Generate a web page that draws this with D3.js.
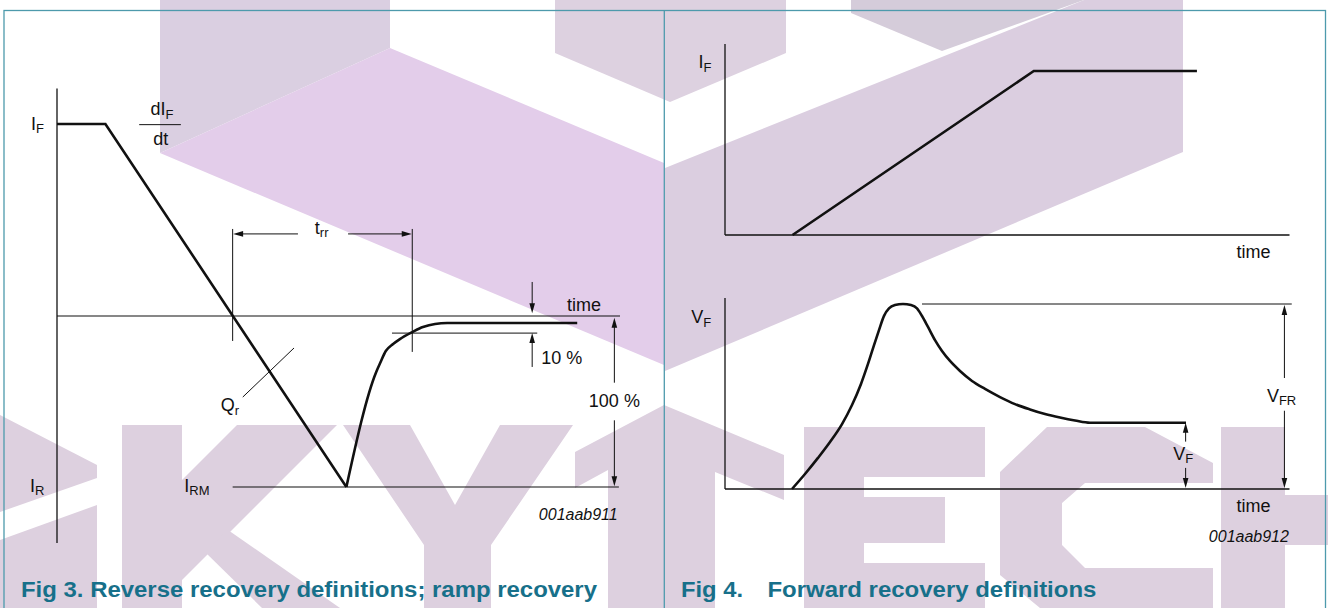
<!DOCTYPE html>
<html><head><meta charset="utf-8">
<script src="https://cdn.jsdelivr.net/npm/d3@7"></script>
<style>html,body{margin:0;padding:0;background:#fff;overflow:hidden}</style>
</head><body><svg id="c" width="1328" height="608"></svg>
<script>
// ---------- DATA ----------
// Fig 3: reverse recovery (time in % of window, current in % of IRM)
const rampTime     = [0, 8.6, 51.4];
const rampCurrent  = [112.3, 112.3, -100];
const recovTime    = [51.4, 56.7, 57.4, 58.4, 59.7, 60.9, 63.1, 65.0, 69.3, 92.4];
const recovCurrent = [-100, -32.7, -27.5, -20.5, -16.4, -13.5, -9.4, -6.4, -4.1, -4.1];
const trrSpan      = [31.2, 63.1];      // start / end of t_rr
const levelIRM     = -100, levelTenPct = -10;
// Fig 4: forward recovery
const ifTime  = [11.96, 54.7, 83.6];
const ifLevel = [0, 100, 100];
const vfTime  = [11.87, 14.17, 16.47, 18.60, 20.73, 22.50, 24.09, 25.33, 26.40, 27.28, 28.17, 29.05, 30.11, 31.53, 32.95, 34.01,
                 34.90, 35.96, 37.20, 38.44, 39.86, 41.63, 43.76, 46.06, 48.72, 51.37, 54.03, 56.69, 59.34, 62.00, 64.66, 81.67];
const vfLevel = [0, 8.1, 16.8, 25.4, 35.1, 45.4, 56.8, 67.6, 77.8, 85.9, 93.6, 97.6, 99.4, 100, 99.4, 97.6,
                 93.5, 87.6, 80.5, 74.6, 69.2, 63.8, 58.4, 54.1, 49.7, 45.9, 43.0, 40.5, 38.6, 37.0, 35.8, 35.8];
const vfrLevel = 100, vfSteady = 35.8;
const captions = ["Fig 3. Reverse recovery definitions; ramp recovery", "Fig 4.", "Forward recovery definitions"];
const codes = ["001aab911", "001aab912"];

// ---------- SETUP ----------
const svg = d3.select("#c");
const FONT = "Arial, 'Liberation Sans', Helvetica, sans-serif";
const INK = "#111";

// watermark logo (decorative background, not data)
const LOGO = "#ddd0df";
const logoShapes = [
  {fill:"#dacfe1", pts:[[160,0],[390,0],[390,48],[160,153]]},
  {fill:"#e3cdea", pts:[[160,153],[390,48],[664,163],[664,365]]},
  {fill:"#ddd1e0", pts:[[555,0],[786,0],[786,53],[670,102],[555,53]]},
  {fill:"#dbcee0", pts:[[665,168],[1084,0],[1183,0],[1183,152],[665,371]]},
  {fill:"#d5ccda", pts:[[851,0],[1084,0],[942,51],[851,13]]},
  // S (partial)
  {fill:LOGO, pts:[[0,415],[97,465],[97,608],[0,608]]},
  {fill:"#ffffff", pts:[[0,512],[97,478],[97,505],[0,540]]},
  // K
  {fill:LOGO, pts:[[122,425],[182,425],[182,608],[122,608]]},
  {fill:LOGO, pts:[[182,480],[237,425],[337,425],[182,580]]},
  {fill:LOGO, pts:[[228,530],[340,608],[262,608],[205,552]]},
  // Y
  {fill:LOGO, pts:[[343,425],[410,425],[455,505],[500,425],[573,425],[491,545],[491,608],[424,608],[424,545]]},
  // T
  {fill:LOGO, pts:[[575,452],[664,405],[784,455],[784,500],[715,472],[715,608],[608,608],[608,470],[575,488]]},
  // E
  {fill:LOGO, pts:[[804,427],[985,427],[985,477],[864,477],[864,497],[945,497],[945,543],[864,543],[864,563],[985,563],[985,608],[804,608]]},
  // C
  {fill:LOGO, pts:[[1047,427],[1145,427],[1213,463],[1213,483],[1085,483],[1062,503],[1062,545],[1085,568],[1213,568],[1213,608],[1040,608],[1000,575],[1000,472]]},
  // H (partial)
  {fill:LOGO, pts:[[1221,427],[1285,427],[1285,608],[1221,608]]},
  {fill:LOGO, pts:[[1285,495],[1328,495],[1328,545],[1285,545]]}
];
svg.append("g").selectAll("polygon").data(logoShapes).join("polygon")
  .attr("points", d => d.pts.map(p => p.join(",")).join(" "))
  .attr("fill", d => d.fill);

// frame
const frame = svg.append("g").attr("fill","none").attr("stroke","#4d9aac").attr("stroke-width",1.3);
frame.append("rect").attr("x",4).attr("y",10.5).attr("width",1321.5).attr("height",620);
frame.append("line").attr("x1",664.3).attr("x2",664.3).attr("y1",10.5).attr("y2",620);

// helpers
function line(g, x1, y1, x2, y2, w) {
  return g.append("line").attr("x1",x1).attr("y1",y1).attr("x2",x2).attr("y2",y2)
    .attr("stroke",INK).attr("stroke-width",w||1);
}
function arrow(g, x1, y1, x2, y2) {
  const len = 10, hw = 2.8;
  const dx = x2-x1, dy = y2-y1, L = Math.hypot(dx,dy), ux = dx/L, uy = dy/L;
  line(g, x1, y1, x2 - ux*len*0.6, y2 - uy*len*0.6, 1);
  const bx = x2 - ux*len, by = y2 - uy*len;
  g.append("path").attr("fill",INK)
    .attr("d", `M${x2},${y2}L${bx - uy*hw},${by + ux*hw}L${bx + uy*hw},${by - ux*hw}Z`);
}
function label(g, x, y, main, sub, opts) {
  opts = opts || {};
  const t = g.append("text").attr("x",x).attr("y",y).attr("font-family",FONT)
    .attr("font-size",opts.size||18).attr("fill",INK)
    .attr("text-anchor",opts.anchor||"start");
  if (opts.italic) t.attr("font-style","italic");
  t.append("tspan").text(main);
  if (sub) t.append("tspan").attr("font-size",13).attr("dy",3.5).text(sub);
  return t;
}

// ---------- FIG 3 ----------
const xL = d3.scaleLinear().domain([0,100]).range([57,620]);
const yL = d3.scaleLinear().domain([-100,0]).range([487,316]);
const gL = svg.append("g");
line(gL, xL(0), yL(133), xL(0), yL(-132.7), 1.3);
line(gL, xL(0), yL(0), xL(100), yL(0), 1.1);
line(gL, xL(trrSpan[0]), yL(levelIRM), xL(99.8), yL(levelIRM), 1.1);
const lineL = d3.line().x(d => xL(d[0])).y(d => yL(d[1]));
gL.append("path").attr("d", lineL(d3.zip(rampTime, rampCurrent)))
  .attr("fill","none").attr("stroke",INK).attr("stroke-width",2.6).attr("stroke-linejoin","miter");
gL.append("path").attr("d", lineL.curve(d3.curveMonotoneX)(d3.zip(recovTime, recovCurrent)))
  .attr("fill","none").attr("stroke",INK).attr("stroke-width",2.6);
line(gL, xL(trrSpan[0]), yL(50.9), xL(trrSpan[0]), yL(-14.6), 1);
line(gL, xL(trrSpan[1]), yL(50.9), xL(trrSpan[1]), yL(-21), 1);
arrow(gL, xL(42.8), yL(48), xL(trrSpan[0])+0.5, yL(48));
arrow(gL, xL(51.7), yL(48), xL(trrSpan[1])-0.5, yL(48));
label(gL, xL(45.8), yL(48), "t", "rr");
line(gL, xL(59.5), yL(levelTenPct), xL(85.3), yL(levelTenPct), 1);
arrow(gL, xL(84.4), yL(19.9), xL(84.4), yL(1.6));
arrow(gL, xL(84.4), yL(-29.8), xL(84.4), yL(levelTenPct));
label(gL, xL(86.0), yL(-28.1), "10 %");
arrow(gL, xL(99.0), yL(-39), xL(99.0), yL(-1));
arrow(gL, xL(99.0), yL(-61), xL(99.0), yL(levelIRM+0.5));
label(gL, xL(99.0), yL(-53.2), "100 %", null, {anchor:"middle"});
line(gL, xL(33.0), yL(-47.4), xL(42.1), yL(-18.7), 1);
label(gL, xL(29.1), yL(-55.6), "Q", "r");
label(gL, xL(-4.6), yL(108.8), "I", "F");
label(gL, xL(-4.8), yL(-102.9), "I", "R");
label(gL, xL(22.6), yL(-102.9), "I", "RM");
label(gL, xL(90.6), yL(2.9), "time");
label(gL, xL(99.6), yL(-119.3), codes[0], null, {anchor:"end", italic:true, size:16});
line(gL, xL(14.6), yL(111.9), xL(22.0), yL(111.9), 1);
label(gL, xL(16.6), yL(117.5), "dI", "F");
label(gL, xL(17.1), yL(100), "dt");

// ---------- FIG 4 ----------
const xR = d3.scaleLinear().domain([0,100]).range([725,1289.5]);
const yT = d3.scaleLinear().domain([0,100]).range([235,71]);
const yB = d3.scaleLinear().domain([0,100]).range([489,304]);
const gR = svg.append("g");
line(gR, xR(0), yT(116.5), xR(0), yT(0), 1.3);
line(gR, xR(0), yT(0), xR(100), yT(0), 1.3);
gR.append("path").attr("d", d3.line().x(d => xR(d[0])).y(d => yT(d[1]))(d3.zip(ifTime, ifLevel)))
  .attr("fill","none").attr("stroke",INK).attr("stroke-width",2.6);
label(gR, xR(-4.7), yT(101.8), "I", "F");
label(gR, xR(90.6), yT(-14.0), "time");
line(gR, xR(0), yB(103.2), xR(0), yB(0), 1.3);
line(gR, xR(0), yB(0), xR(100), yB(0), 1.3);
gR.append("path").attr("d", d3.line().curve(d3.curveMonotoneX).x(d => xR(d[0])).y(d => yB(d[1]))(d3.zip(vfTime, vfLevel)))
  .attr("fill","none").attr("stroke",INK).attr("stroke-width",2.6);
line(gR, xR(34.9), yB(vfrLevel), xR(100.4), yB(vfrLevel), 1);
arrow(gR, xR(99.1), yB(60), xR(99.1), yB(vfrLevel-0.5));
arrow(gR, xR(99.1), yB(42.3), xR(99.1), yB(0.5));
label(gR, xR(96.0), yB(47.2), "V", "FR");
arrow(gR, xR(81.6), yB(25.6), xR(81.6), yB(vfSteady));
arrow(gR, xR(81.6), yB(11.4), xR(81.6), yB(0.5));
label(gR, xR(79.4), yB(15.7), "V", "F");
label(gR, xR(-6.0), yB(89.7), "V", "F");
label(gR, xR(90.6), yB(-12.4), "time");
label(gR, xR(99.9), yB(-28.5), codes[1], null, {anchor:"end", italic:true, size:16});

// captions
const cap = svg.append("g").attr("font-family",FONT).attr("font-weight","bold").attr("font-size",22).attr("fill","#17708a");
cap.append("text").attr("x",21).attr("y",597).attr("textLength",576).attr("lengthAdjust","spacingAndGlyphs").text(captions[0]);
cap.append("text").attr("x",681).attr("y",597).attr("textLength",62).attr("lengthAdjust","spacingAndGlyphs").text(captions[1]);
cap.append("text").attr("x",767.4).attr("y",597).attr("textLength",329).attr("lengthAdjust","spacingAndGlyphs").text(captions[2]);
</script></body></html>
